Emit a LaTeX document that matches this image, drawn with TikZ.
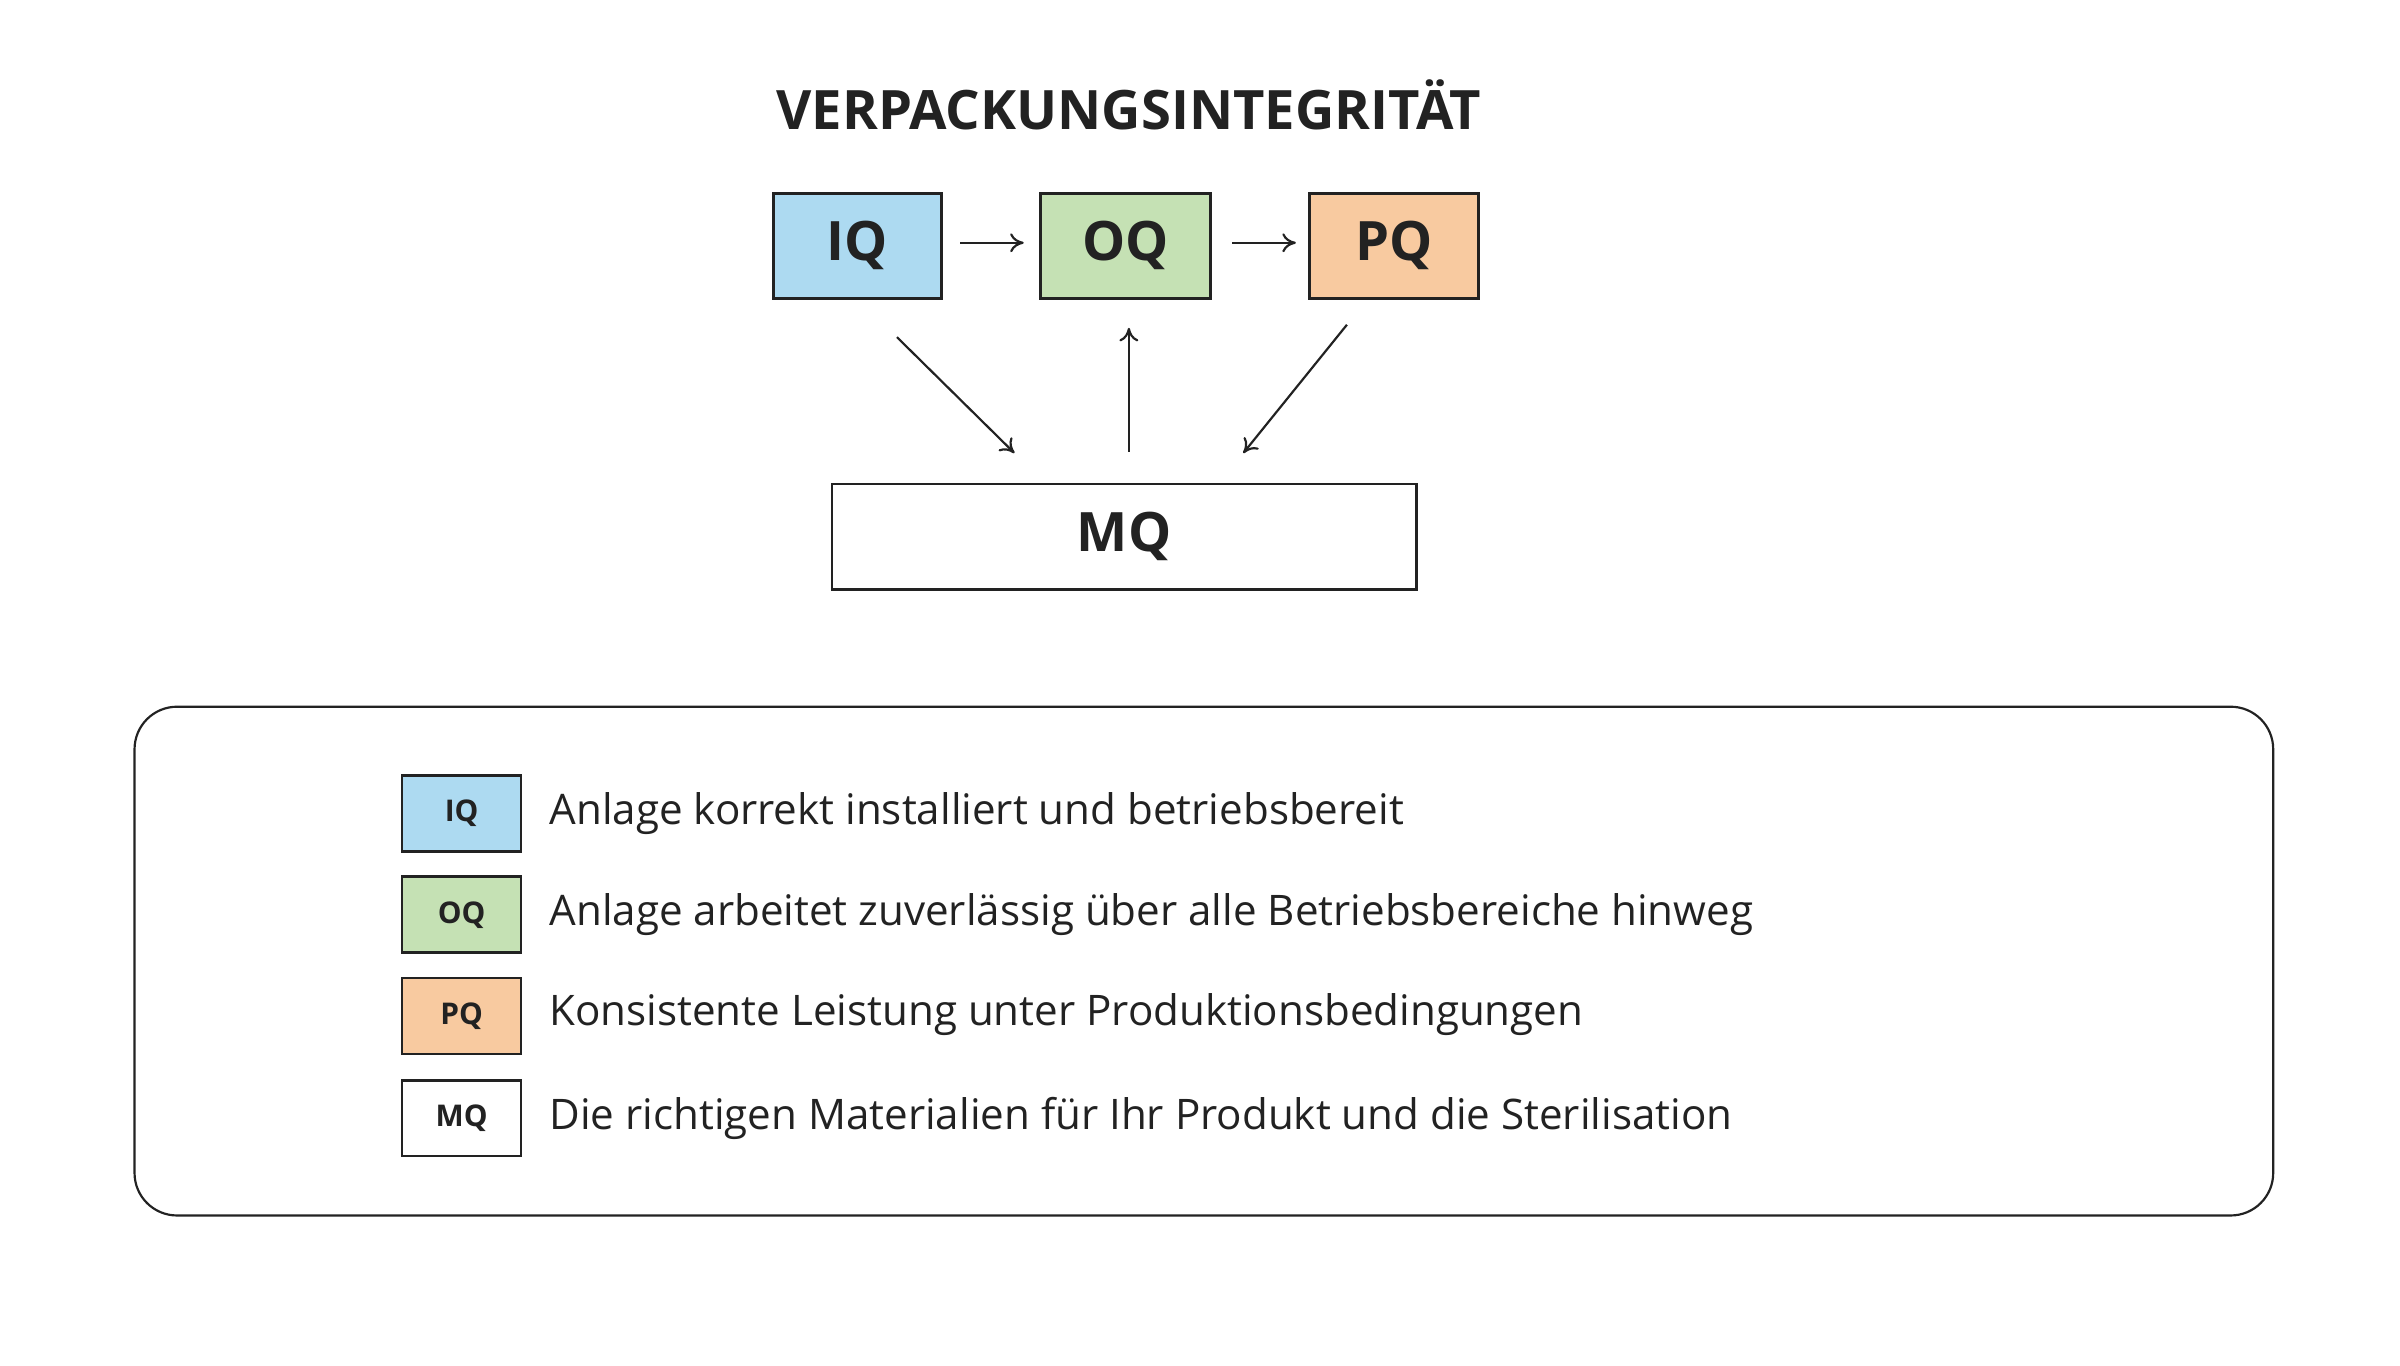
\documentclass[tikz,border=0pt]{standalone}
\usepackage{fontspec}
\setmainfont{Open Sans}
\usetikzlibrary{arrows.meta}
\definecolor{iqc}{HTML}{ADDAF1}
\definecolor{oqc}{HTML}{C5E1B4}
\definecolor{pqc}{HTML}{F8CAA0}
\definecolor{txt}{HTML}{222222}
\tikzset{
 px/.style={x=0.02cm,y=-0.02cm},
 bigbox/.style={draw=txt,line width=1pt,inner sep=0pt,text=txt,font=\fontsize{20}{24}\selectfont\bfseries},
 legbox/.style={draw=txt,line width=1pt,inner sep=0pt,minimum width=1.54cm,minimum height=0.98cm,text=txt,font=\fontsize{11}{13}\selectfont\bfseries},
 legtxt/.style={anchor=west,inner sep=0pt,text=txt,font=\fontsize{15.5}{18}\selectfont},
 arr/.style={-{To[length=5pt,width=7pt]},line width=0.8pt,draw=txt}
}
\begin{document}
\begin{tikzpicture}[px]
\useasboundingbox (0,0) rectangle (1552,883);
\node[text=txt,font=\fontsize{20}{24}\selectfont\bfseries] (title) at (730,68) {VERPACKUNGSINTEGRITÄT};
\node[bigbox,fill=iqc,minimum width=2.18cm,minimum height=1.36cm] (iq) at (554.5,159) {IQ};
\node[bigbox,fill=oqc,minimum width=2.2cm,minimum height=1.36cm] (oq) at (728,159) {OQ};
\node[bigbox,fill=pqc,minimum width=2.18cm,minimum height=1.36cm] (pq) at (901.5,159) {PQ};
\node[bigbox,fill=white,minimum width=7.56cm,minimum height=1.36cm] (mq) at (727,347) {MQ};
\coordinate (a1) at (621,157); \coordinate (a2) at (662,157);
\coordinate (b1) at (797,157); \coordinate (b2) at (838,157);
\coordinate (c1) at (580,218); \coordinate (c2) at (656,293);
\coordinate (d1) at (730,292); \coordinate (d2) at (730,212);
\coordinate (e1) at (871,210); \coordinate (e2) at (804,293);
\draw[arr] (a1) -- (a2);
\draw[arr] (b1) -- (b2);
\draw[arr] (c1) -- (c2);
\draw[arr] (d1) -- (d2);
\draw[arr] (e1) -- (e2);
\draw[draw=txt,line width=0.8pt,rounded corners=0.55cm] (87,457) rectangle (1470,786);
\node[legbox,fill=iqc] (l1) at (298.5,526) {IQ};
\node[legbox,fill=oqc] (l2) at (298.5,591.5) {OQ};
\node[legbox,fill=pqc] (l3) at (298.5,657) {PQ};
\node[legbox,fill=white] (l4) at (298.5,723) {MQ};
\node[legtxt] (t1) at (355,526) {Anlage korrekt installiert und betriebsbereit};
\node[legtxt] (t2) at (355,591.5) {Anlage arbeitet zuverlässig über alle Betriebsbereiche hinweg};
\node[legtxt] (t3) at (355,656) {Konsistente Leistung unter Produktionsbedingungen};
\node[legtxt] (t4) at (355,723) {Die richtigen Materialien für Ihr Produkt und die Sterilisation};
\end{tikzpicture}
\end{document}
